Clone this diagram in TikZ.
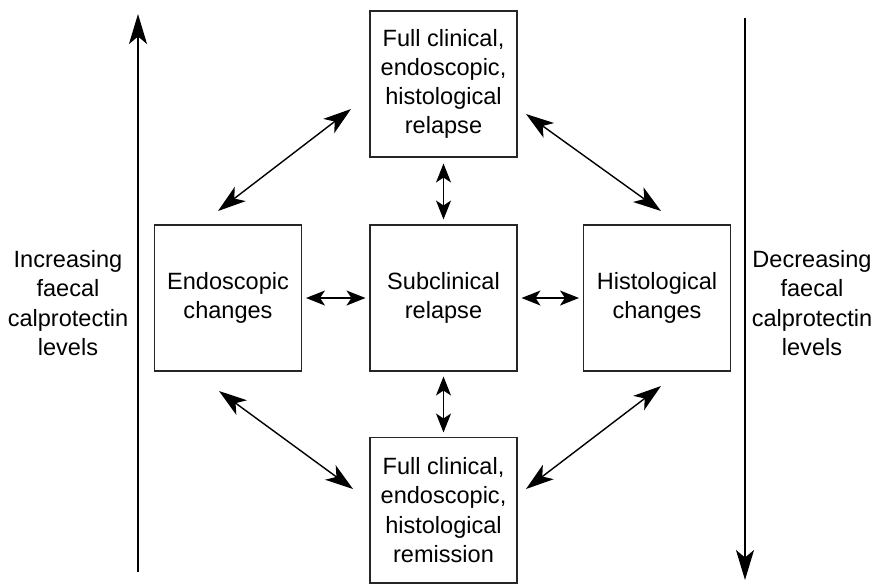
\documentclass[tikz,border=0pt]{standalone}
\usepackage{fontspec}
\setmainfont{Liberation Sans}
\usetikzlibrary{arrows.meta}
\begin{document}
\begin{tikzpicture}[x=0.02cm,y=-0.02cm,
  box/.style={draw=black!85,line width=0.6pt,minimum width=2.94cm,minimum height=2.92cm,align=center,inner sep=0pt,font=\fontsize{13.4}{16.6}\selectfont},
  lbl/.style={align=center,font=\fontsize{13.4}{16.8}\selectfont},
  dbl/.style={line width=0.8pt,{Stealth[length=0.56cm,width=0.36cm,inset=0.15cm]}-{Stealth[length=0.56cm,width=0.36cm,inset=0.15cm]}},
  sdbl/.style={line width=0.8pt,{Stealth[length=0.38cm,width=0.3cm,inset=0.1cm]}-{Stealth[length=0.38cm,width=0.3cm,inset=0.1cm]}},
  big/.style={line width=1pt,-{Stealth[length=0.6cm,width=0.36cm,inset=0.15cm]}}]
\useasboundingbox (0,0) rectangle (875,583);
\node[box] (T) at (443.5,84) {Full clinical,\\endoscopic,\\histological\\relapse};
\node[box] (L) at (228,298) {Endoscopic\\changes};
\node[box] (C) at (443.5,298) {Subclinical\\relapse};
\node[box] (R) at (657,298) {Histological\\changes};
\node[box] (B) at (443.5,510) {Full clinical,\\endoscopic,\\histological\\remission};
\node[lbl] (IL) at (68,303) {Increasing\\faecal\\calprotectin\\levels};
\node[lbl] (DL) at (812,303) {Decreasing\\faecal\\calprotectin\\levels};
\coordinate (ub) at (138,572);
\coordinate (ut) at (138,14);
\coordinate (db) at (745,18);
\coordinate (dt) at (745,580);
\draw[big] (ub) -- (ut);
\draw[big] (db) -- (dt);
\draw[sdbl] ([xshift=-0.08cm]C.west) -- ([xshift=0.08cm]L.east);
\draw[sdbl] ([xshift=0.08cm]C.east) -- ([xshift=-0.08cm]R.west);
\draw[sdbl] ([yshift=0.1cm]C.north) -- ([yshift=-0.12cm]T.south);
\draw[sdbl] ([yshift=-0.1cm]C.south) -- ([yshift=0.08cm]B.north);
\coordinate (a1) at (218,211);
\coordinate (a2) at (351,109);
\coordinate (b1) at (526,114);
\coordinate (b2) at (661,211);
\coordinate (c1) at (219,391);
\coordinate (c2) at (353,489);
\coordinate (d1) at (526,489);
\coordinate (d2) at (661,386);
\draw[dbl] (a1) -- (a2);
\draw[dbl] (b1) -- (b2);
\draw[dbl] (c1) -- (c2);
\draw[dbl] (d1) -- (d2);
\end{tikzpicture}
\end{document}
